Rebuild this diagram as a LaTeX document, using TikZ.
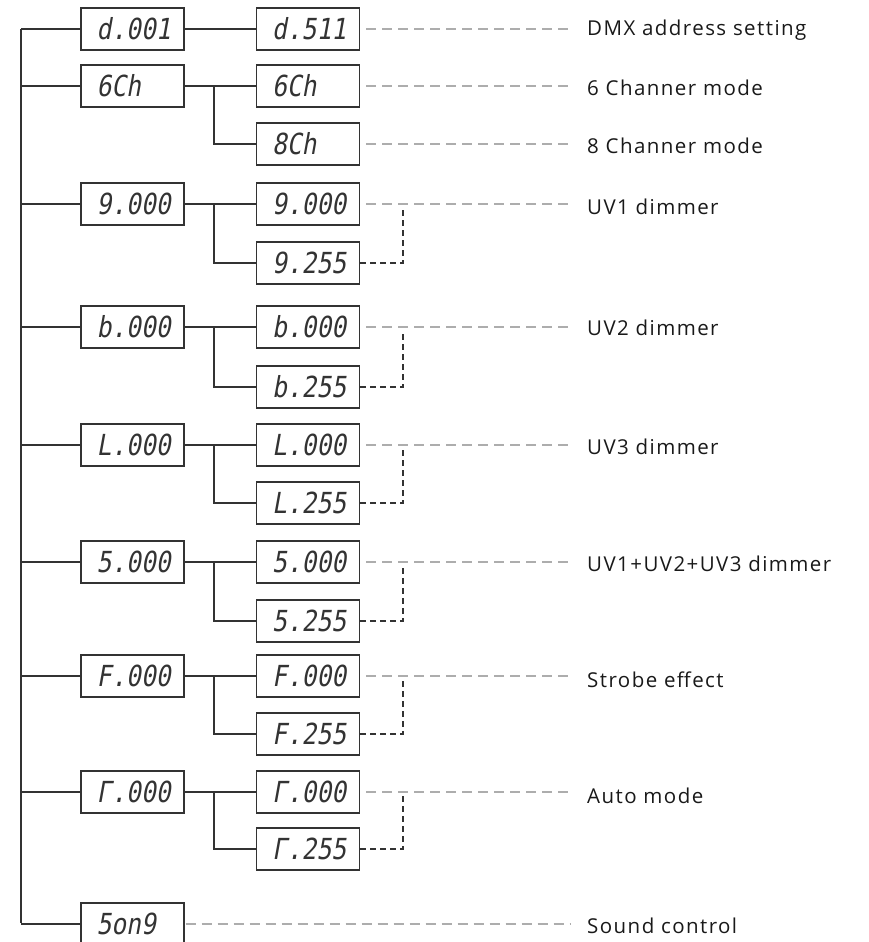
\documentclass[tikz,border=0pt]{standalone}
\usepackage{fontspec}
\setmainfont[LetterSpace=7]{Open Sans}
\newfontfamily\segfont[FakeSlant=0.18,FakeStretch=0.85]{DejaVu Sans Mono}
\definecolor{linec}{gray}{0.2}
\definecolor{graydash}{gray}{0.68}
\definecolor{labc}{gray}{0.1}
\tikzset{
  x=1pt, y=-1pt,
  segbox/.style={draw=linec, line width=1.3pt, minimum width=103pt, minimum height=42pt,
    inner sep=0pt, font=\segfont\fontsize{29}{29}\selectfont, text=linec},
  conn/.style={draw=linec, line width=1.2pt},
  gdash/.style={draw=graydash, line width=1.2pt, dash pattern=on 10pt off 6pt},
  bdash/.style={draw=linec, line width=1.1pt, dash pattern=on 6pt off 4pt},
  lab/.style={anchor=west, inner sep=0pt, font=\fontsize{20.5}{20.5}\selectfont, text=labc}
}
\newcommand{\seg}[1]{\makebox[72pt][l]{#1}}
\begin{document}
\begin{tikzpicture}
\useasboundingbox (0,0) rectangle (868,942);
\clip (0,0) rectangle (868,942);
% spine and split coordinates
\coordinate (spinetop) at (21,29);
\coordinate (spinebot) at (21,923);
\coordinate (split) at (214,0);
\coordinate (brk) at (403,0);
% left column
\node[segbox] (L1) at (132.5,29) {\seg{d.001}};
\node[segbox] (L2) at (132.5,86) {\seg{6Ch}};
\node[segbox] (L3) at (132.5,204) {\seg{9.000}};
\node[segbox] (L4) at (132.5,327) {\seg{b.000}};
\node[segbox] (L5) at (132.5,445) {\seg{L.000}};
\node[segbox] (L6) at (132.5,562) {\seg{5.000}};
\node[segbox] (L7) at (132.5,676) {\seg{F.000}};
\node[segbox] (L8) at (132.5,792) {\seg{Γ.000}};
\node[segbox] (L9) at (132.5,924) {\seg{5on9}};
% right column
\node[segbox] (R1) at (308,29) {\seg{d.511}};
\node[segbox] (R2a) at (308,86) {\seg{6Ch}};
\node[segbox] (R2b) at (308,144) {\seg{8Ch}};
\node[segbox] (R3a) at (308,204) {\seg{9.000}};
\node[segbox] (R3b) at (308,263) {\seg{9.255}};
\node[segbox] (R4a) at (308,327) {\seg{b.000}};
\node[segbox] (R4b) at (308,387) {\seg{b.255}};
\node[segbox] (R5a) at (308,445) {\seg{L.000}};
\node[segbox] (R5b) at (308,503) {\seg{L.255}};
\node[segbox] (R6a) at (308,562) {\seg{5.000}};
\node[segbox] (R6b) at (308,621) {\seg{5.255}};
\node[segbox] (R7a) at (308,676) {\seg{F.000}};
\node[segbox] (R7b) at (308,734) {\seg{F.255}};
\node[segbox] (R8a) at (308,792) {\seg{Γ.000}};
\node[segbox] (R8b) at (308,849) {\seg{Γ.255}};
% labels
\node[lab] (T1) at (587,30) {DMX address setting};
\node[lab] (T2) at (587,88) {6 Channer mode};
\node[lab] (T3) at (587,146) {8 Channer mode};
\node[lab] (T4) at (587,207) {UV1 dimmer};
\node[lab] (T5) at (587,328) {UV2 dimmer};
\node[lab] (T6) at (587,447) {UV3 dimmer};
\node[lab] (T7) at (587,564) {UV1+UV2+UV3 dimmer};
\node[lab] (T8) at (587,680) {Strobe effect};
\node[lab] (T9) at (587,796) {Auto mode};
\node[lab] (T10) at (587,926) {Sound control};
% spine
\draw[conn] (spinetop) -- (spinebot);
\foreach \n in {L1,L2,L3,L4,L5,L6,L7,L8,L9}
  \draw[conn] (spinetop |- \n.west) -- (\n.west);
% left to right
\draw[conn] (L1.east) -- (R1.west);
\foreach \l/\a/\b in {L2/R2a/R2b,L3/R3a/R3b,L4/R4a/R4b,L5/R5a/R5b,L6/R6a/R6b,L7/R7a/R7b,L8/R8a/R8b}{
  \draw[conn] (\l.east) -- (\a.west);
  \draw[conn] (split |- \a.west) |- (\b.west);
}
% gray dashed leaders
\draw[gdash] ([xshift=6pt]R1.east) -- ([xshift=-16pt]T1.west |- R1.east);
\draw[gdash] ([xshift=6pt]R2a.east) -- ([xshift=-16pt]T2.west |- R2a.east);
\draw[gdash] ([xshift=6pt]R2b.east) -- ([xshift=-16pt]T3.west |- R2b.east);
\draw[gdash] ([xshift=6pt]R3a.east) -- ([xshift=-16pt]T4.west |- R3a.east);
\draw[gdash] ([xshift=6pt]R4a.east) -- ([xshift=-16pt]T5.west |- R4a.east);
\draw[gdash] ([xshift=6pt]R5a.east) -- ([xshift=-16pt]T6.west |- R5a.east);
\draw[gdash] ([xshift=6pt]R6a.east) -- ([xshift=-16pt]T7.west |- R6a.east);
\draw[gdash] ([xshift=6pt]R7a.east) -- ([xshift=-16pt]T8.west |- R7a.east);
\draw[gdash] ([xshift=6pt]R8a.east) -- ([xshift=-16pt]T9.west |- R8a.east);
\draw[gdash] ([xshift=1pt]L9.east) -- ([xshift=-16pt]T10.west |- L9.east);
% black dashed brackets
\foreach \a/\b in {R3a/R3b,R4a/R4b,R5a/R5b,R6a/R6b,R7a/R7b,R8a/R8b}
  \draw[bdash] (\b.east) -| ([yshift=-4pt]brk |- \a.east);
\end{tikzpicture}
\end{document}
